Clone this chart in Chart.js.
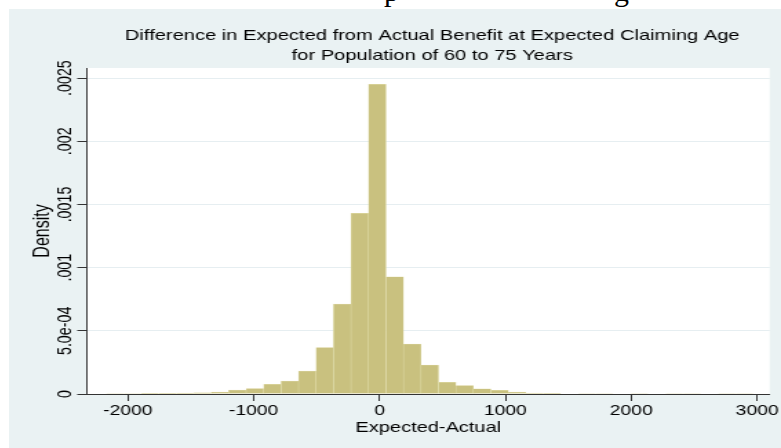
<!DOCTYPE html>
<html>
<head>
<meta charset="utf-8">
<script src="https://cdn.jsdelivr.net/npm/chart.js"></script>
<style>
  body { margin: 0; background: #fff; width: 781px; height: 448px; overflow: hidden; position: relative; }
  #cut { position: absolute; left: 0; top: 0; width: 781px; height: 9px; overflow: hidden; font-family: "Liberation Serif", serif; font-size: 30px; line-height: 30px; color: #000; }
  #cut span { position: absolute; top: -24px; }
  #wrap { position: absolute; left: 9px; top: 9px; width: 560px; height: 439px; transform: scaleX(1.3786); transform-origin: 0 0; }
</style>
</head>
<body>
<div id="cut"><span style="left:384px">p</span><span style="left:614px">g</span></div>
<div id="wrap"><canvas id="chart" width="560" height="439"></canvas></div>
<script>
// histogram bins (centres) and density
const binCenters = [-2102, -1963, -1824, -1685, -1546, -1407, -1268, -1129, -990, -851,
    -712, -574, -435, -296, -157, -18, 121, 260, 399, 538,
    676, 815, 954, 1093, 1232, 1371, 1510, 1648, 1787, 1926,
    2065, 2204, 2343, 2482, 2621, 2760, 2899];
const density = [0.000004, 0.000004, 0.000005, 0.000005, 0.000007, 0.000009, 0.000016, 0.000032, 0.000042, 0.000077,
    0.000103, 0.000182, 0.000368, 0.000712, 0.00143, 0.00245, 0.000928, 0.000395, 0.000229, 0.000093,
    0.000066, 0.00004, 0.000029, 0.000016, 0.000008, 0.000006, 0, 0.000004, 0.000004, 0,
    0.000004, 0, 0.000004, 0.000004, 0, 0.000004, 0.000004];
const xTicks = [-2000, -1000, 0, 1000, 2000, 3000];
const yTicks = [0, 0.0005, 0.001, 0.0015, 0.002, 0.0025];
const yTickLabels = ["0", "5.0e-04", ".001", ".0015", ".002", ".0025"];
const titleLines = ["Difference in Expected from Actual Benefit at Expected Claiming Age",
    "for Population of 60 to 75 Years"];

const FONT = "'Liberation Sans', Arial, sans-serif";
const ink = "#000";

const stataLook = {
    id: "stataLook",
    beforeDraw(chart) {
        const { ctx, chartArea: a, width, height } = chart;
        ctx.save();
        ctx.fillStyle = "#eaf2f3";
        ctx.fillRect(0, 0, width, height);
        ctx.fillStyle = "#fff";
        ctx.fillRect(a.left, a.top, a.right - a.left, a.bottom - a.top);
        ctx.restore();
    },
    afterDraw(chart) {
        const { ctx } = chart;
        const y = chart.scales.y;
        ctx.save();
        ctx.fillStyle = ink;
        // title, two lines
        ctx.font = "14.6px " + FONT;
        ctx.textAlign = "center";
        ctx.textBaseline = "alphabetic";
        ctx.fillText(titleLines[0], 307, 31);
        ctx.fillText(titleLines[1], 307, 51);
        // vertical y tick labels like Stata
        ctx.font = "14.3px " + FONT;
        ctx.textBaseline = "middle";
        y.ticks.forEach((t, i) => {
            ctx.save();
            ctx.translate(40.8, y.getPixelForValue(t.value));
            ctx.rotate(-Math.PI / 2);
            ctx.fillText(yTickLabels[i], 0, 0);
            ctx.restore();
        });
        ctx.restore();
    }
};

new Chart(document.getElementById("chart"), {
    type: "bar",
    data: {
        datasets: [{
            data: binCenters.map((c, i) => ({ x: c, y: density[i] })),
            backgroundColor: "rgb(201,193,127)",
            borderColor: "rgb(226,222,172)",
            borderWidth: 0.5,
            barPercentage: 1,
            categoryPercentage: 1,
        }],
    },
    options: {
        responsive: false,
        animation: false,
        layout: { padding: { top: 59, right: 8.2, left: 0, bottom: 0 } },
        plugins: { legend: { display: false }, tooltip: { enabled: false }, title: { display: false } },
        scales: {
            x: {
                type: "linear",
                min: -2325,
                max: 3100,
                offset: false,
                afterBuildTicks: (s) => { s.ticks = xTicks.map((v) => ({ value: v })); },
                afterFit: (s) => { s.height = 54; },
                grid: { offset: false, drawOnChartArea: false, drawTicks: true, tickLength: 7, tickColor: "#333" },
                border: { color: "#333", width: 1 },
                ticks: {
                    color: ink, font: { family: FONT, size: 14 }, padding: 1.5,
                    maxRotation: 0, autoSkip: false, callback: (v) => String(v),
                },
                title: { display: true, text: "Expected-Actual", color: ink, font: { family: FONT, size: 14.5 }, padding: { top: 0, bottom: 11.5 } },
            },
            y: {
                min: 0,
                max: 0.00258,
                afterBuildTicks: (s) => { s.ticks = yTicks.map((v) => ({ value: v })); },
                afterFit: (s) => { s.width = 56.5; },
                grid: { color: "#e6eef1", tickColor: "#333", tickLength: 7, drawTicks: true },
                border: { color: "#333", width: 1 },
                ticks: { display: false },
                title: { display: true, text: "Density", color: ink, font: { family: FONT, size: 16 }, padding: { top: 14.5 } },
            },
        },
    },
    plugins: [stataLook],
});
</script>
</body>
</html>
